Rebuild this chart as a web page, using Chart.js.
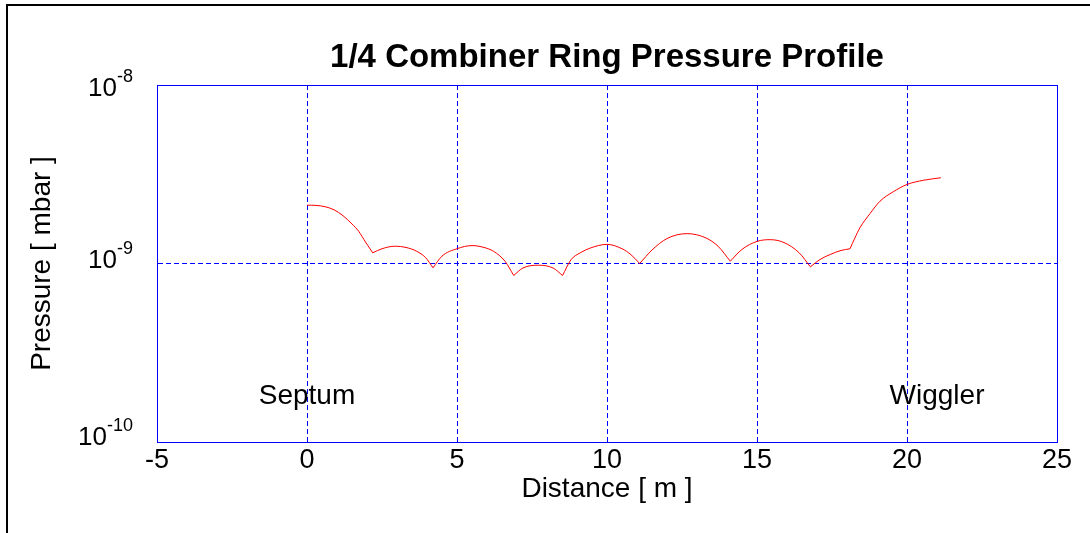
<!DOCTYPE html>
<html>
<head>
<meta charset="UTF-8">
<title>1/4 Combiner Ring Pressure Profile</title>
<script src="https://cdn.jsdelivr.net/npm/chart.js"></script>
<style>
  html, body { margin: 0; padding: 0; background: #fff; }
  canvas { display: block; }
</style>
</head>
<body>
<canvas id="grafico" width="1090" height="533"></canvas>
<script>
  // distance along the ring [m]
  const distance = [
    0, 0.3, 0.6, 0.9, 1.2, 1.5, 1.72, 1.95, 2.19,
    2.5, 2.94, 3.3, 3.66, 3.95, 4.2,
    4.5, 5.0, 5.5, 5.9, 6.22, 6.6, 6.89,
    7.2, 7.72, 8.2, 8.52,
    8.8, 9.11, 9.44, 10.0, 10.5, 10.8, 11.09,
    11.5, 12.0, 12.67, 13.3, 13.7, 14.11,
    14.5, 15.0, 15.44, 15.9, 16.4, 16.78,
    17.1, 17.44, 17.8, 18.1,
    18.26, 18.43, 18.77, 19.1, 19.54, 20.0, 20.56, 21.13
  ];
  // pressure [mbar]
  const pressure = [
    2.122e-9, 2.116e-9, 2.081e-9, 2.0e-9, 1.853e-9, 1.665e-9, 1.517e-9, 1.319e-9, 1.148e-9,
    1.21e-9, 1.25e-9, 1.23e-9, 1.17e-9, 1.08e-9, 0.946e-9,
    1.10e-9, 1.21e-9, 1.26e-9, 1.23e-9, 1.17e-9, 1.03e-9, 0.857e-9,
    0.944e-9, 0.978e-9, 0.944e-9, 0.857e-9,
    1.05e-9, 1.148e-9, 1.22e-9, 1.28e-9, 1.21e-9, 1.12e-9, 1.0e-9,
    1.19e-9, 1.38e-9, 1.47e-9, 1.39e-9, 1.25e-9, 1.03e-9,
    1.2e-9, 1.33e-9, 1.36e-9, 1.31e-9, 1.15e-9, 0.958e-9,
    1.053e-9, 1.123e-9, 1.183e-9, 1.209e-9,
    1.386e-9, 1.585e-9, 1.906e-9, 2.234e-9, 2.522e-9, 2.771e-9, 2.929e-9, 3.021e-9
  ];
  // sharp corners between pump sections
  const corners = [2.19, 4.2, 6.89, 8.52, 11.09, 14.11, 16.78, 18.1];

  const ticksX = [-5, 0, 5, 10, 15, 20, 25];
  const ticksY = [1e-10, 1e-9, 1e-8];

  const labelText = ["Septum", "Wiggler"];
  const labelX = [0, 21];
  const labelY = [1.8e-10, 1.8e-10];

  const chartTitle = "1/4 Combiner Ring Pressure Profile";
  const FONT = '"Liberation Sans", Arial, Helvetica, sans-serif';

  // one dataset per section so the corners stay sharp
  const datasets = [];
  let current = [];
  distance.forEach((d, i) => {
    current.push({ x: d, y: pressure[i] });
    if (corners.includes(d)) {
      datasets.push(current);
      current = [{ x: d, y: pressure[i] }];
    }
  });
  datasets.push(current);

  const extras = {
    id: 'extras',
    beforeDraw(chart) {
      const c = chart.ctx;
      c.save();
      c.fillStyle = '#fff';
      c.fillRect(0, 0, chart.width, chart.height);
      c.fillStyle = '#000';
      c.fillRect(6, 4, 2, chart.height - 4);
      c.fillRect(6, 4, chart.width - 6, 2);
      c.restore();
    },
    afterDraw(chart) {
      const c = chart.ctx;
      const a = chart.chartArea;
      const sx = chart.scales.x, sy = chart.scales.y;
      c.save();
      c.strokeStyle = '#0000ff';
      c.lineWidth = 1;
      c.strokeRect(a.left + 0.5, a.top + 0.5, a.right - a.left, a.bottom - a.top);

      c.fillStyle = '#000';
      c.textBaseline = 'middle';
      c.textAlign = 'center';
      c.font = 'bold 33px ' + FONT;
      c.fillText(chartTitle, (a.left + a.right) / 2, 58);

      c.font = '28px ' + FONT;
      labelText.forEach((t, i) => {
        c.fillText(t, sx.getPixelForValue(labelX[i]), sy.getPixelForValue(labelY[i]));
      });

      // y tick labels as 10 with a raised exponent
      const nudge = [-4.5, -3, 3.5];
      c.textAlign = 'right';
      ticksY.forEach((v, i) => {
        const py = sy.getPixelForValue(v) + nudge[i];
        const exp = String(Math.round(Math.log10(v)));
        c.font = '18px ' + FONT;
        const w = c.measureText(exp).width;
        c.fillText(exp, 133, py - 11);
        c.font = '26px ' + FONT;
        c.fillText('10', 133 - w, py);
      });
      c.restore();
    }
  };

  new Chart(document.getElementById('grafico'), {
    type: 'line',
    data: {
      datasets: datasets.map(pts => ({
        data: pts,
        borderColor: '#ff0000',
        borderWidth: 1,
        pointRadius: 0,
        fill: false,
        cubicInterpolationMode: 'monotone'
      }))
    },
    options: {
      responsive: false,
      animation: false,
      devicePixelRatio: 1,
      layout: { padding: { top: 85, right: 33, left: 0, bottom: 0 } },
      plugins: {
        legend: { display: false },
        tooltip: { enabled: false },
        title: { display: false }
      },
      scales: {
        x: {
          type: 'linear',
          min: -5,
          max: 25,
          afterBuildTicks: s => { s.ticks = ticksX.map(v => ({ value: v })); },
          afterFit: s => { s.height = 91; },
          ticks: { color: '#000', font: { family: FONT, size: 27 }, padding: 2, maxRotation: 0 },
          grid: { color: '#0000ff', lineWidth: 1, drawTicks: false },
          border: { color: '#0000ff', dash: [5, 3] },
          title: {
            display: true,
            text: 'Distance [ m ]',
            color: '#000',
            font: { family: FONT, size: 28 },
            padding: { top: 0, bottom: 27 }
          }
        },
        y: {
          type: 'logarithmic',
          min: 1e-10,
          max: 1e-8,
          afterBuildTicks: s => { s.ticks = ticksY.map(v => ({ value: v })); },
          afterFit: s => { s.width = 157; },
          ticks: { display: false },
          grid: { color: '#0000ff', lineWidth: 1, drawTicks: false },
          border: { color: '#0000ff', dash: [5, 3] },
          title: {
            display: true,
            text: 'Pressure [ mbar ]',
            color: '#000',
            font: { family: FONT, size: 28 },
            padding: { top: 25, bottom: 0 }
          }
        }
      }
    },
    plugins: [extras]
  });
</script>
</body>
</html>
